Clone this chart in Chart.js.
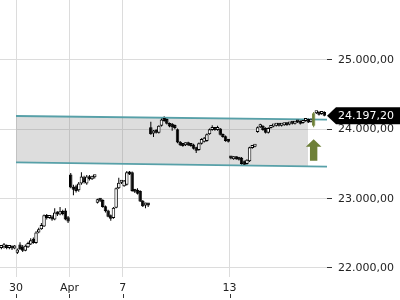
<!DOCTYPE html>
<html><head><meta charset="utf-8">
<script src="https://cdn.jsdelivr.net/npm/chart.js@4.4.1/dist/chart.umd.min.js"></script>
<style>html,body{margin:0;padding:0;background:#fff;}canvas{display:block;}</style>
</head><body>
<canvas id="c" width="400" height="300"></canvas>
<script>
// trading-day index of each session (weekends / Easter holidays removed)
const tradingDays = [-1, 0, 1, 2, 3, 4, 5, 6, 7, 8, 9, 10, 11];
const dayNames = ['27.03.','30.03.','31.03.','01.04.','02.04.','07.04.','08.04.','09.04.','10.04.','13.04.','14.04.','15.04.','16.04.'];
const firstSlot = [4, 0, 0, 0, 0, 0, 0, 0, 0, 0, 0, 0, 0];
const slotsPerDay = 10;

const opens = [
  [22290,22300,22330,22290,22310,22280],
  [22220,22340,22310,22250,22300,22340,22420,22360,22510,22560],
  [22600,22760,22720,22740,22700,22800,22770,22820,22830,22730],
  [23350,23170,23180,23120,23220,23310,23220,23320,23280,23310],
  [22940,22990,22980,22890,22830,22760,22720,22870,23150,23230],
  [23180,23200,23380,23380,23120,23130,23110,22970,22900,22920],
  [24030,23940,23990,23950,24050,24140,24150,24090,24080,24060],
  [24000,23820,23790,23770,23810,23770,23780,23740,23700,23790],
  [23820,23830,23930,23990,24000,23990,24010,23930,23900,23850],
  [23600,23570,23600,23580,23590,23540,23500,23540,23730,23750],
  [23960,24030,24050,24020,23950,24020,24040,24050,24060,24050],
  [24060,24090,24070,24090,24080,24110,24120,24090,24120,24150],
  [24110,24050,24230,24240,24220,24250]
];
const highs = [
  [22320,22360,22340,22330,22320,22330],
  [22280,22370,22330,22340,22380,22430,22440,22530,22580,22650],
  [22770,22780,22760,22760,22860,22820,22880,22840,22860,22750],
  [23370,23200,23200,23240,23380,23330,23340,23340,23330,23340],
  [23000,23000,22990,22900,22840,22770,22880,23160,23300,23260],
  [23270,23400,23400,23390,23140,23150,23120,22980,22940,22930],
  [24110,23990,24000,24060,24160,24190,24170,24100,24090,24070],
  [24010,23830,23800,23810,23820,23780,23790,23750,23810,23870],
  [23890,23940,24010,24060,24020,24050,24020,23940,23910,23860],
  [23610,23610,23610,23590,23600,23550,23570,23750,23770,23770],
  [24040,24080,24060,24030,24030,24050,24060,24070,24070,24080],
  [24090,24100,24100,24100,24120,24120,24130,24130,24160,24160],
  [24160,24250,24250,24260,24260,24260]
];
const lows = [
  [22270,22280,22270,22270,22260,22270],
  [22200,22260,22230,22240,22290,22330,22350,22350,22500,22550],
  [22590,22700,22710,22680,22690,22750,22760,22760,22690,22650],
  [23150,23050,23090,23100,23200,23220,23200,23260,23270,23290],
  [22930,22950,22870,22800,22730,22680,22710,22860,23140,23210],
  [23170,23190,23340,23100,23080,23060,22950,22880,22860,22880],
  [23920,23890,23940,23940,24040,24110,24070,24030,23980,24000],
  [23800,23760,23750,23760,23760,23750,23710,23660,23690,23780],
  [23810,23820,23920,23980,23980,23980,23910,23880,23820,23810],
  [23570,23560,23560,23550,23490,23480,23490,23530,23720,23740],
  [23950,24020,23980,23940,23940,24010,24030,24040,24040,24040],
  [24050,24050,24060,24070,24070,24090,24070,24080,24110,24090],
  [24100,24030,24220,24200,24210,24190]
];
const closes = [
  [22300,22330,22290,22310,22280,22300],
  [22265,22270,22250,22320,22360,22400,22360,22510,22560,22620],
  [22760,22720,22740,22700,22800,22770,22820,22780,22700,22670],
  [23160,23130,23110,23220,23320,23240,23320,23280,23310,23320],
  [22990,22970,22880,22820,22740,22710,22870,23150,23230,23240],
  [23260,23380,23350,23110,23100,23070,22960,22890,22920,22900],
  [23930,23980,23950,24050,24140,24120,24080,24040,24030,24020],
  [23810,23770,23760,23800,23770,23760,23720,23690,23800,23860],
  [23880,23930,24000,24010,23990,24010,23920,23890,23830,23820],
  [23580,23600,23570,23560,23500,23490,23560,23740,23760,23760],
  [24030,24040,23990,23950,24020,24040,24050,24060,24050,24070],
  [24080,24060,24090,24080,24110,24100,24080,24120,24140,24100],
  [24150,24230,24240,24210,24250,24197.2]
];
const signalDay = 12, signalSlot = 1;

const lastPrice = 24197.20;
const xTicks = [0, 2, 4, 8];
const xTickLabels = ['30', 'Apr', '7', '13'];
const yTicks = [22000, 23000, 24000, 25000];

// trend channel
const channelX = [0, 11.65];
const channelUpper = [24192, 24141];
const channelLower = [23524, 23461];
const channelFillEnd = 10.94;

// buy signal arrow
const arrowX = 11.15, arrowTop = 23856, arrowBottom = 23547;

const olive = '#6e8038';
const FONT = {family: 'DejaVu Sans', size: 11};

function fmtDE(v) {
  const s = Number(v).toFixed(2);
  let [i, f] = s.split('.');
  i = i.replace(/\B(?=(\d{3})+(?!\d))/g, '.');
  return i + ',' + f;
}

const candles = [];
tradingDays.forEach((d, di) => {
  opens[di].forEach((o, k) => {
    const slot = firstSlot[di] + k;
    candles.push({
      x: d + (slot + 0.5) / slotsPerDay,
      o, h: highs[di][k], l: lows[di][k], c: closes[di][k],
      signal: di === signalDay && k === signalSlot
    });
  });
});

const bandPlugin = {
  id: 'band',
  beforeDatasetsDraw(chart) {
    const {ctx, chartArea, scales: {x, y}} = chart;
    const x0 = x.getPixelForValue(channelX[0]), x1 = x.getPixelForValue(channelX[1]);
    const xe = x.getPixelForValue(channelFillEnd);
    ctx.save();
    ctx.beginPath();
    ctx.rect(x0, chartArea.top, xe - x0, chartArea.bottom - chartArea.top);
    ctx.clip();
    ctx.beginPath();
    ctx.moveTo(x0, y.getPixelForValue(channelUpper[0]));
    ctx.lineTo(x1, y.getPixelForValue(channelUpper[1]));
    ctx.lineTo(x1, y.getPixelForValue(channelLower[1]));
    ctx.lineTo(x0, y.getPixelForValue(channelLower[0]));
    ctx.closePath();
    ctx.fillStyle = 'rgba(120,120,120,0.25)';
    ctx.fill();
    ctx.restore();
  }
};

const overlayPlugin = {
  id: 'overlay',
  afterDraw(chart) {
    const {ctx, chartArea, scales: {x, y}} = chart;
    // signal arrow
    const cx = x.getPixelForValue(arrowX);
    const top = y.getPixelForValue(arrowTop), bot = y.getPixelForValue(arrowBottom);
    const headW = 7.8, shaftW = 3.7, headH = 7.4;
    ctx.save();
    ctx.fillStyle = olive;
    ctx.beginPath();
    ctx.moveTo(cx, top);
    ctx.lineTo(cx + headW, top + headH);
    ctx.lineTo(cx + shaftW, top + headH);
    ctx.lineTo(cx + shaftW, bot);
    ctx.lineTo(cx - shaftW, bot);
    ctx.lineTo(cx - shaftW, top + headH);
    ctx.lineTo(cx - headW, top + headH);
    ctx.closePath();
    ctx.fill();
    // last price tag
    const py = y.getPixelForValue(lastPrice);
    const r = chartArea.right;
    ctx.fillStyle = '#000';
    ctx.beginPath();
    ctx.moveTo(r, py);
    ctx.lineTo(r + 9, py - 8.5);
    ctx.lineTo(chart.width, py - 8.5);
    ctx.lineTo(chart.width, py + 8.5);
    ctx.lineTo(r + 9, py + 8.5);
    ctx.closePath();
    ctx.fill();
    ctx.fillStyle = '#fff';
    ctx.font = '11px "DejaVu Sans"';
    ctx.textBaseline = 'middle';
    ctx.textAlign = 'left';
    ctx.fillText(fmtDE(lastPrice), r + 11, py + 0.5);
    // small x tick marks under the labels
    ctx.strokeStyle = '#333';
    ctx.lineWidth = 1;
    xTicks.forEach(v => {
      const px = Math.round(x.getPixelForValue(v)) + 0.5;
      ctx.beginPath();
      ctx.moveTo(px, chartArea.bottom + 17);
      ctx.lineTo(px, chartArea.bottom + 21);
      ctx.stroke();
    });
    ctx.restore();
  }
};

const lineStyle = {type: 'line', borderColor: '#57a0a8', borderWidth: 1.8, pointRadius: 0, fill: false, order: 2};

new Chart(document.getElementById('c'), {
  type: 'bar',
  data: {
    datasets: [
      {
        label: 'wick', order: 3, grouped: false,
        data: candles.map(c => ({x: c.x, y: [c.l, c.h]})),
        backgroundColor: ctx => candles[ctx.dataIndex] && candles[ctx.dataIndex].signal ? olive : '#000',
        maxBarThickness: 1, borderWidth: 0
      },
      {
        label: 'body', order: 1, grouped: false,
        data: candles.map(c => ({x: c.x, y: [c.o, c.c]})),
        backgroundColor: ctx => {
          const c = candles[ctx.dataIndex];
          if (!c) return '#000';
          if (c.signal) return olive;
          return c.c >= c.o ? '#fff' : '#000';
        },
        borderColor: ctx => candles[ctx.dataIndex] && candles[ctx.dataIndex].signal ? olive : '#000',
        borderWidth: 1, borderSkipped: false,
        categoryPercentage: 1, barPercentage: 1.3, maxBarThickness: 3.5, minBarLength: 3
      },
      Object.assign({label: 'upper', data: channelX.map((v, i) => ({x: v, y: channelUpper[i]}))}, lineStyle),
      Object.assign({label: 'lower', data: channelX.map((v, i) => ({x: v, y: channelLower[i]}))}, lineStyle)
    ]
  },
  options: {
    responsive: false,
    animation: false,
    layout: {padding: 0},
    plugins: {legend: {display: false}, tooltip: {enabled: false}},
    scales: {
      x: {
        type: 'linear', min: -0.6, max: 11.65, offset: false,
        afterBuildTicks: s => { s.ticks = xTicks.map(v => ({value: v})); },
        afterFit: s => { s.height = 23; s.paddingLeft = 0; s.paddingRight = 0; },
        grid: {color: '#dcdcdc', drawTicks: false, offset: false},
        border: {display: false},
        ticks: {
          padding: 5, color: '#222', font: FONT, maxRotation: 0, autoSkip: false,
          callback: v => { const i = xTicks.indexOf(v); return i >= 0 ? xTickLabels[i] : ''; }
        }
      },
      y: {
        position: 'right', min: 21870, max: 25865,
        afterBuildTicks: s => { s.ticks = yTicks.map(v => ({value: v})); },
        afterFit: s => { s.width = 73; s.paddingTop = 0; s.paddingBottom = 0; },
        grid: {color: '#dcdcdc', tickColor: '#333', tickLength: 5, drawTicks: true},
        border: {display: false},
        ticks: {padding: 6, color: '#222', font: FONT, callback: v => fmtDE(v)}
      }
    }
  },
  plugins: [bandPlugin, overlayPlugin]
});
</script>
</body></html>
